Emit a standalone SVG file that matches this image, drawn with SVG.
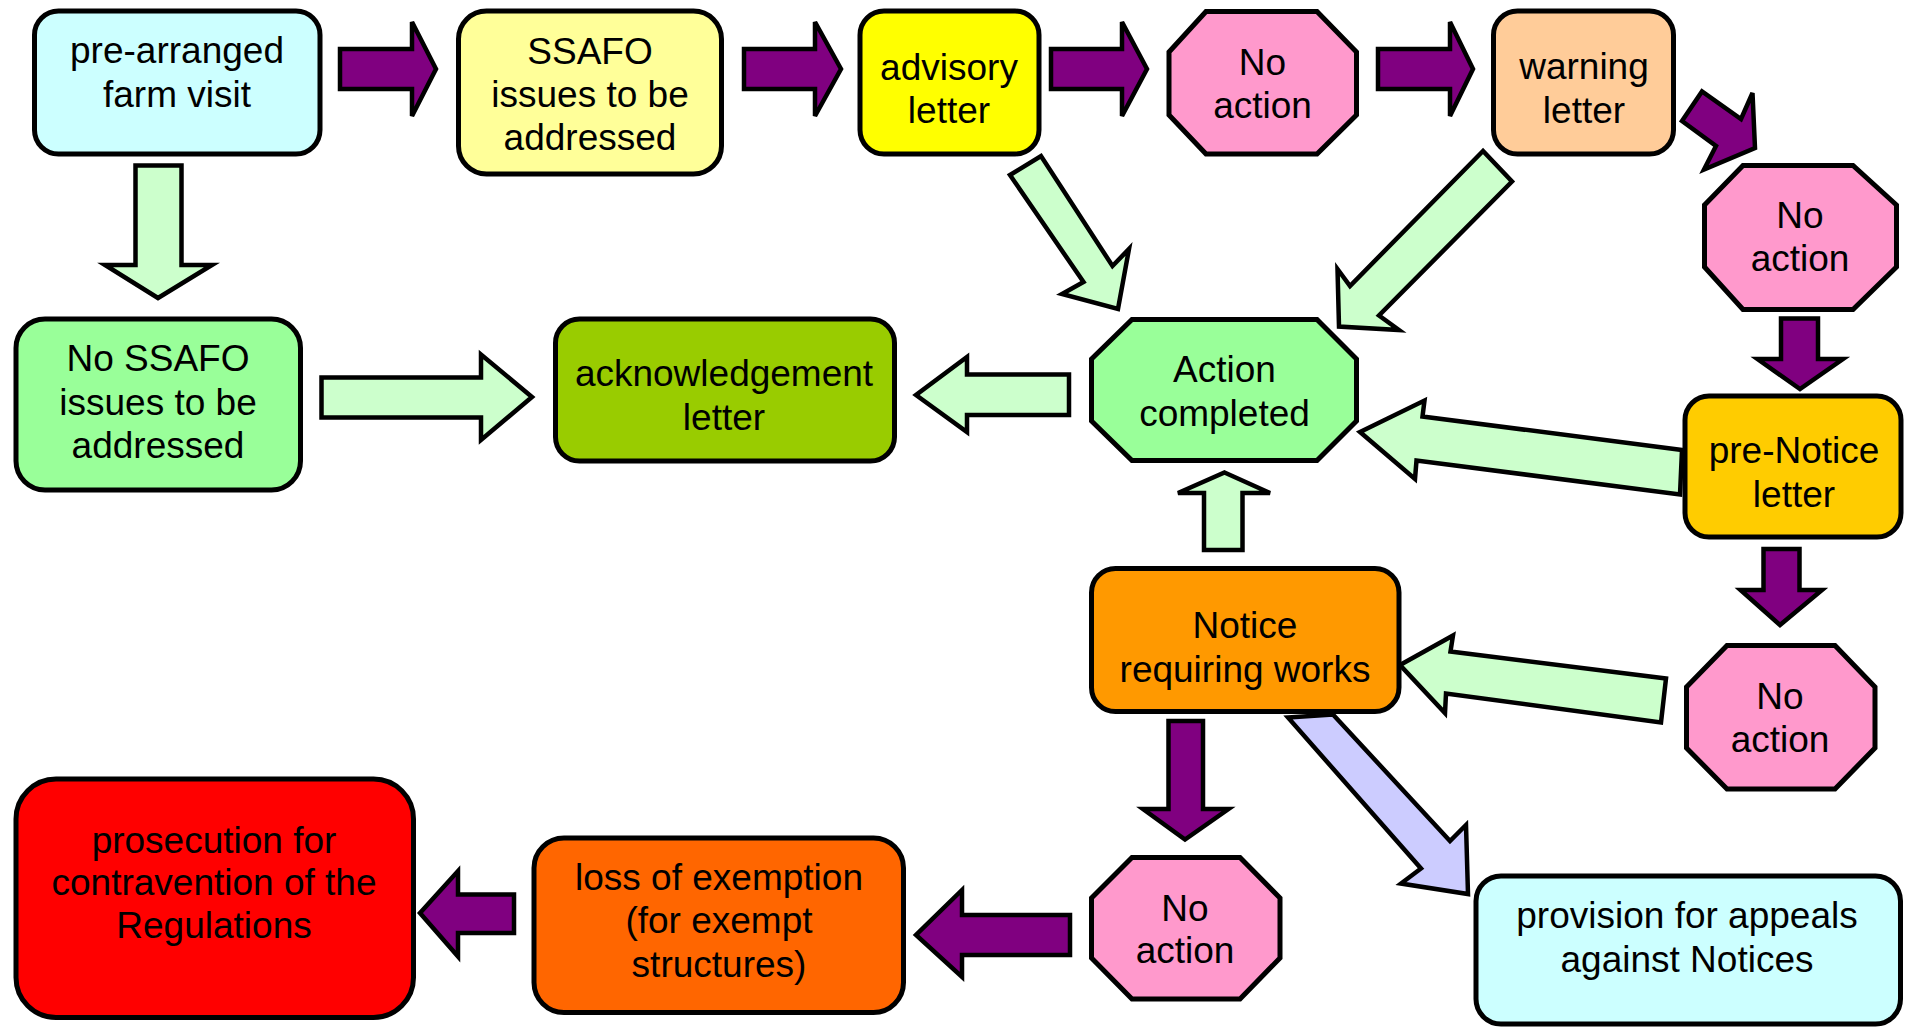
<svg xmlns="http://www.w3.org/2000/svg" width="1907" height="1028" viewBox="0 0 1907 1028">
  <style>
    .node { stroke: #000; stroke-width: 5; stroke-linejoin: miter; }
    .arrow { stroke: #000; stroke-width: 4.5; stroke-linejoin: miter; }
    .step { fill: #800080; }
    .ok { fill: #CCFFCC; }
    .appeal { fill: #CCCCFF; }
    text { font-family: "Liberation Sans", Arial, sans-serif; font-size: 37px; fill: #000; text-anchor: middle; }
  </style>

  <!-- connectors: block arrows -->
  <g id="connectors">
    <!-- purple escalation arrows -->
    <polygon class="arrow step" points="340,49 412,49 412,22 436,69 412,116 412,89 340,89"/>
    <polygon class="arrow step" points="744,49 815,49 815,22 841,69 815,116 815,89 744,89"/>
    <polygon class="arrow step" points="1051,49 1122,49 1122,22 1147,69 1122,116 1122,89 1051,89"/>
    <polygon class="arrow step" points="1378,49 1450,49 1450,22 1473,69 1450,116 1450,89 1378,89"/>
    <polygon class="arrow step" points="1682,121 1702,91.5 1741,119 1752.5,93 1755,148 1704,169.5 1716,146"/>
    <polygon class="arrow step" points="1781,318.5 1818,318.5 1818,359 1843,359 1800,389 1757.5,359 1781,359"/>
    <polygon class="arrow step" points="1763.5,549 1799.5,549 1799.5,590 1822,590 1780,625 1740.5,590 1763.5,590"/>
    <polygon class="arrow step" points="1168.5,721 1203,721 1203,809 1228.5,809 1185,839.5 1143,809 1168.5,809"/>
    <polygon class="arrow step" points="1070,915 1070,955 962,955 962,977 916,935 962,890 962,915"/>
    <polygon class="arrow step" points="514,894.5 514,933 458,933 458,956.5 420,913 458,871 458,894.5"/>

    <!-- light green resolution arrows -->
    <polygon class="arrow ok" points="135.5,165.5 181.5,165.5 181.5,265 212,265 158,298 105,265 135.5,265"/>
    <polygon class="arrow ok" points="321.5,377.5 481,377.5 481,354.5 532,397 481,440 481,417.5 321.5,417.5"/>
    <polygon class="arrow ok" points="1069,374.5 1069,415 967,415 967,432 916,395 967,357 967,374.5"/>
    <polygon class="arrow ok" points="1010,175 1083.5,282 1062,294 1118,309 1129,249 1112.5,266 1041,156"/>
    <polygon class="arrow ok" points="1483,151 1350,286 1337.5,269 1339,326.5 1399,330 1379,315.5 1512,181.5"/>
    <polygon class="arrow ok" points="1360,432 1424.5,400.5 1422.5,416.5 1682,450 1680,494.5 1416.5,460.5 1415,479"/>
    <polygon class="arrow ok" points="1400,665 1453,635.5 1450.5,651.5 1666,678.5 1661,722.5 1446,693.5 1445,713"/>
    <polygon class="arrow ok" points="1224.5,472.5 1270,493 1242.5,493 1242.5,550 1204,550 1204,493 1178,493"/>

    <!-- appeal route -->
    <polygon class="arrow appeal" points="1288,717.5 1333,714.5 1450,841 1466,825 1468,894 1401,883.5 1421,868.5"/>
  </g>

  <!-- nodes -->
  <g id="farm-visit">
    <rect class="node" x="34.5" y="11" width="285.5" height="143" rx="24" fill="#CCFFFF"/>
    <text x="177" y="63">pre-arranged</text>
    <text x="177" y="107">farm visit</text>
  </g>

  <g id="ssafo-issues">
    <rect class="node" x="458.5" y="11" width="263" height="163" rx="28" fill="#FFFF99"/>
    <text x="590" y="64">SSAFO</text>
    <text x="590" y="107">issues to be</text>
    <text x="590" y="150">addressed</text>
  </g>

  <g id="advisory-letter">
    <rect class="node" x="860" y="11" width="179" height="143" rx="24" fill="#FFFF00"/>
    <text x="949" y="80">advisory</text>
    <text x="949" y="123">letter</text>
  </g>

  <g id="no-action-1">
    <polygon class="node" fill="#FF99CC" points="1206,11.5 1317,11.5 1356.5,52 1356.5,115 1317,154 1206,154 1169,115 1169,52"/>
    <text x="1262.5" y="75">No</text>
    <text x="1262.5" y="118">action</text>
  </g>

  <g id="warning-letter">
    <rect class="node" x="1493.5" y="11" width="180" height="143" rx="24" fill="#FFCC99"/>
    <text x="1584" y="79">warning</text>
    <text x="1584" y="123">letter</text>
  </g>

  <g id="no-action-2">
    <polygon class="node" fill="#FF99CC" points="1743,165.5 1853,165.5 1896.5,205 1896.5,267 1853,309.5 1743,309.5 1704.5,267 1704.5,205"/>
    <text x="1800" y="228">No</text>
    <text x="1800" y="271">action</text>
  </g>

  <g id="no-ssafo-issues">
    <rect class="node" x="16" y="319" width="284.5" height="171" rx="29" fill="#99FF99"/>
    <text x="158" y="371">No SSAFO</text>
    <text x="158" y="415">issues to be</text>
    <text x="158" y="458">addressed</text>
  </g>

  <g id="acknowledgement-letter">
    <rect class="node" x="555.5" y="319" width="339" height="142" rx="24" fill="#99CC00"/>
    <text x="724" y="386">acknowledgement</text>
    <text x="724" y="430">letter</text>
  </g>

  <g id="action-completed">
    <polygon class="node" fill="#99FF99" points="1132,319.5 1317,319.5 1356.5,359 1356.5,421 1317,460.5 1132,460.5 1091.5,421 1091.5,359"/>
    <text x="1224.5" y="382">Action</text>
    <text x="1224.5" y="426">completed</text>
  </g>

  <g id="pre-notice-letter">
    <rect class="node" x="1685" y="396" width="216" height="141" rx="24" fill="#FFCC00"/>
    <text x="1794" y="463">pre-Notice</text>
    <text x="1794" y="507">letter</text>
  </g>

  <g id="notice-requiring-works">
    <rect class="node" x="1091.5" y="568.5" width="307.5" height="143" rx="24" fill="#FF9900"/>
    <text x="1245" y="638">Notice</text>
    <text x="1245" y="682">requiring works</text>
  </g>

  <g id="no-action-3">
    <polygon class="node" fill="#FF99CC" points="1727,645.5 1835,645.5 1875,687 1875,748 1835,789 1727,789 1686.5,748 1686.5,687"/>
    <text x="1780" y="709">No</text>
    <text x="1780" y="752">action</text>
  </g>

  <g id="no-action-4">
    <polygon class="node" fill="#FF99CC" points="1132,857.5 1240,857.5 1280,898 1280,958 1240,999 1132,999 1091.5,958 1091.5,898"/>
    <text x="1185" y="921">No</text>
    <text x="1185" y="963">action</text>
  </g>

  <g id="appeals-provision">
    <rect class="node" x="1476" y="876" width="424.5" height="148" rx="25" fill="#CCFFFF"/>
    <text x="1687" y="928">provision for appeals</text>
    <text x="1687" y="972">against Notices</text>
  </g>

  <g id="loss-of-exemption">
    <rect class="node" x="534" y="838" width="369.5" height="174.5" rx="30" fill="#FF6600"/>
    <text x="719" y="890">loss of exemption</text>
    <text x="719" y="933">(for exempt</text>
    <text x="719" y="977">structures)</text>
  </g>

  <g id="prosecution">
    <rect class="node" x="16" y="779" width="397.5" height="238.5" rx="40" fill="#FF0000"/>
    <text x="214" y="853">prosecution for</text>
    <text x="214" y="895">contravention of the</text>
    <text x="214" y="938">Regulations</text>
  </g>
</svg>
